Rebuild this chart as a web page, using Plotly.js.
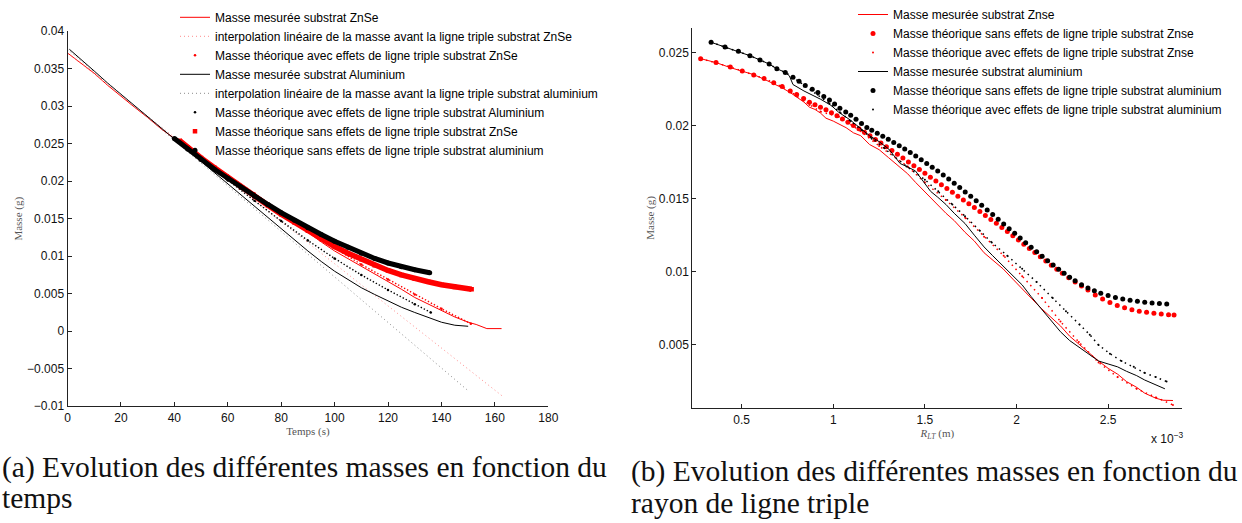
<!DOCTYPE html>
<html><head><meta charset="utf-8">
<script src="https://cdn.plot.ly/plotly-3.0.1.min.js"></script>
<style>html,body{margin:0;padding:0;background:#fff}</style>
</head><body><div id="chart" style="width:1242px;height:523px"></div>
<script>
// ---------- (a) mass vs time ----------
const tMesZn = [0,5,10,15,20,25,30,35,40,45,50,55,60,65,70,75,80,85,90,95,100,105,110,115,120,125,130,135,140,145,150,153,157,162.5];
const mMesZn = [0.0371,0.0358,0.0344,0.0328,0.0313,0.0299,0.0285,0.0270,0.0257,0.0244,0.0232,0.0219,0.0207,0.0194,0.0182,0.0170,0.0157,0.0144,0.0131,0.0119,0.0107,0.0097,0.0086,0.0076,0.0066,0.0056,0.0045,0.0036,0.0027,0.0019,0.0012,0.0009,0.00035,0.00035];
const tMesAl = [0.7,5,10,15,20,25,30,35,40,45,50,55,60,65,70,75,80,85,90,95,100,105,110,115,120,125,130,135,140,145,150];
const mMesAl = [0.0376,0.0362,0.0347,0.0331,0.0316,0.0301,0.0286,0.0271,0.0257,0.0242,0.0227,0.0212,0.0197,0.0182,0.0167,0.0152,0.0137,0.0122,0.0107,0.0093,0.0080,0.0069,0.0058,0.0049,0.0040,0.0032,0.0025,0.0018,0.0012,0.0008,0.00066];
const tInterpZn = [0,162.8];
const mInterpZn = [0.0371,-0.00865];
const tInterpAl = [0,150.2];
const mInterpAl = [0.0376,-0.0080];
const tAvecZn = [42,50,60,70,80,90,100,110,120,130,140,151];
const mAvecZn = [0.0254,0.0233,0.0208,0.0184,0.0160,0.0135,0.0111,0.0089,0.0069,0.0049,0.0030,0.0010];
const tAvecAl = [40,50,60,70,80,90,100,110,120,130,136];
const mAvecAl = [0.0257,0.0229,0.0201,0.0174,0.0147,0.0121,0.0097,0.0075,0.0055,0.0036,0.0025];
const tSansZn = [42,45,50,55,60,65,70,75,80,85,90,95,100,105,110,115,120,125,130,135,140,145,151.3];
const mSansZn = [0.0254,0.0245,0.0231,0.0218,0.0205,0.0192,0.0180,0.0168,0.0156,0.0145,0.0134,0.0123,0.0113,0.0104,0.0096,0.0088,0.0081,0.0075,0.0070,0.0066,0.0062,0.0059,0.0056];
const tSansAl = [40,45,50,55,60,65,70,75,80,85,90,95,100,105,110,115,120,125,130,135.6];
const mSansAl = [0.0257,0.0243,0.0229,0.0216,0.0204,0.0192,0.0180,0.0169,0.0158,0.0148,0.0138,0.0129,0.0120,0.0112,0.0104,0.0097,0.0091,0.0086,0.0082,0.0078];

const xTicksA = [0,20,40,60,80,100,120,140,160,180];
const yTicksA = [-0.01,-0.005,0,0.005,0.01,0.015,0.02,0.025,0.03,0.035,0.04];
const yTickTextA = ['\u22120.01','\u22120.005','0','0.005','0.01','0.015','0.02','0.025','0.03','0.035','0.04'];

// ---------- (b) mass vs triple line radius (x 1e-3 m) ----------
const rMesZn = [0.276,0.36,0.44,0.50,0.565,0.62,0.675,0.72,0.765,0.80,0.84,0.87,0.90,0.93,0.96,1.0,1.031,1.07,1.11,1.15,1.198,1.25,1.302,1.35,1.406,1.45,1.51,1.56,1.615,1.66,1.719,1.77,1.823,1.87,1.927,1.98,2.031,2.08,2.135,2.19,2.24,2.29,2.344,2.40,2.448,2.50,2.552,2.60,2.656,2.70,2.76,2.80,2.854];
const mRMesZn = [0.02457,0.0243,0.02395,0.02375,0.02348,0.02318,0.02285,0.02258,0.02225,0.02195,0.0216,0.02125,0.0211,0.02085,0.0205,0.0203,0.0201,0.01985,0.0195,0.0193,0.0187,0.01835,0.0178,0.0173,0.0167,0.0161,0.0153,0.0147,0.0140,0.0135,0.0127,0.0121,0.0113,0.0108,0.0102,0.0095,0.0088,0.0082,0.0075,0.0069,0.0063,0.0056,0.0050,0.0044,0.0039,0.0034,0.0030,0.0025,0.0021,0.0017,0.00136,0.00122,0.0012];
const rMesAl = [0.333,0.409,0.482,0.545,0.60,0.65,0.692,0.738,0.76,0.78,0.84,0.93,0.99,1.03,1.09,1.15,1.198,1.25,1.302,1.34,1.365,1.40,1.448,1.49,1.531,1.57,1.615,1.66,1.719,1.77,1.823,1.87,1.927,1.98,2.031,2.08,2.135,2.19,2.24,2.29,2.344,2.40,2.448,2.50,2.552,2.60,2.656,2.70,2.74,2.81];
const mRMesAl = [0.02569,0.02537,0.02507,0.02477,0.02448,0.0242,0.02388,0.02363,0.0234,0.0228,0.02236,0.0218,0.02136,0.0209,0.0204,0.0198,0.0193,0.0189,0.0184,0.0178,0.0174,0.0172,0.0169,0.0162,0.0155,0.0151,0.0146,0.0140,0.0133,0.0125,0.0117,0.0111,0.0104,0.0097,0.0091,0.0083,0.0075,0.0067,0.0059,0.0053,0.0048,0.0043,0.0039,0.0037,0.0035,0.0032,0.0029,0.0026,0.0024,0.0020];
const rSansZn = [0.276,0.36,0.438,0.503,0.566,0.622,0.675,0.721,0.765,0.80,0.838,0.87,0.90,0.93,0.96,0.99,1.02,1.05,1.08,1.11,1.14,1.17,1.20,1.23,1.26,1.29,1.32,1.35,1.38,1.41,1.44,1.47,1.50,1.53,1.56,1.59,1.62,1.65,1.68,1.71,1.74,1.77,1.80,1.83,1.86,1.89,1.92,1.95,1.98,2.01,2.04,2.07,2.10,2.13,2.16,2.19,2.22,2.25,2.285,2.32,2.355,2.39,2.43,2.47,2.51,2.55,2.59,2.63,2.67,2.71,2.75,2.79,2.83,2.86];
const mRSansZn = [0.02457,0.0243,0.0240,0.02373,0.02346,0.02321,0.02293,0.02266,0.02236,0.02212,0.02185,0.02159,0.02142,0.02125,0.02107,0.02087,0.02066,0.02044,0.02022,0.02000,0.01977,0.01954,0.01930,0.01905,0.01880,0.01855,0.01829,0.01803,0.01777,0.01751,0.01725,0.01699,0.01673,0.01647,0.01621,0.01595,0.01569,0.01543,0.01517,0.01491,0.01465,0.01439,0.01412,0.01385,0.01358,0.01331,0.01303,0.01275,0.01247,0.01218,0.01189,0.01160,0.01131,0.01102,0.01073,0.01045,0.01017,0.00990,0.00960,0.00931,0.00903,0.00876,0.00842,0.00814,0.00790,0.00770,0.00754,0.00741,0.00731,0.00723,0.00716,0.00711,0.00707,0.00705];
const rSansAl = [0.333,0.409,0.482,0.545,0.60,0.65,0.692,0.738,0.78,0.813,0.847,0.885,0.916,0.948,0.979,1.007,1.036,1.068,1.095,1.124,1.154,1.183,1.21,1.24,1.27,1.30,1.33,1.36,1.39,1.42,1.45,1.48,1.51,1.54,1.57,1.60,1.63,1.66,1.69,1.72,1.75,1.78,1.81,1.84,1.87,1.90,1.93,1.96,1.99,2.02,2.05,2.08,2.11,2.14,2.17,2.20,2.23,2.26,2.29,2.32,2.355,2.39,2.425,2.46,2.50,2.54,2.58,2.62,2.66,2.70,2.74,2.78,2.82];
const mRSansAl = [0.02569,0.02537,0.02507,0.02477,0.02448,0.0242,0.02388,0.02363,0.0233,0.02303,0.02274,0.02248,0.02226,0.02199,0.02174,0.02147,0.02118,0.02092,0.0207,0.02042,0.02013,0.01987,0.01967,0.01947,0.01927,0.01906,0.01884,0.01862,0.01839,0.01815,0.01791,0.01766,0.01741,0.01715,0.01689,0.01662,0.01634,0.01605,0.01576,0.01546,0.01516,0.01485,0.01454,0.01423,0.01391,0.01359,0.01327,0.01295,0.01263,0.01231,0.01199,0.01168,0.01137,0.01106,0.01076,0.01047,0.01018,0.00990,0.00963,0.00938,0.00912,0.00890,0.00870,0.00853,0.00838,0.00825,0.00814,0.00805,0.00798,0.00792,0.00787,0.00783,0.00779];
const rAvecZn = [0.276,0.36,0.438,0.503,0.566,0.622,0.675,0.721,0.765,0.80,0.838,0.87,0.93,1.031,1.15,1.25,1.406,1.50,1.615,1.72,1.823,1.93,2.031,2.14,2.24,2.34,2.448,2.552,2.656,2.76,2.854];
const mRAvecZn = [0.02457,0.0243,0.0240,0.02373,0.02346,0.02321,0.02293,0.02266,0.02236,0.0220,0.0217,0.0214,0.02095,0.0206,0.0196,0.0186,0.0172,0.0161,0.0149,0.0137,0.0124,0.0111,0.0097,0.0082,0.0066,0.0052,0.0038,0.0028,0.0020,0.0014,0.0009];
const rAvecAl = [0.333,0.409,0.482,0.545,0.60,0.65,0.692,0.738,0.78,0.847,0.916,0.979,1.036,1.095,1.154,1.21,1.28,1.40,1.50,1.573,1.65,1.719,1.80,1.865,1.95,2.031,2.11,2.198,2.27,2.344,2.40,2.448,2.51,2.573,2.64,2.698,2.76,2.819];
const mRAvecAl = [0.02569,0.02537,0.02507,0.02477,0.02448,0.0242,0.02388,0.02363,0.0233,0.0227,0.0221,0.0215,0.0209,0.0203,0.0197,0.0191,0.01844,0.0172,0.0163,0.0155,0.0146,0.0138,0.0128,0.0120,0.0111,0.0102,0.0093,0.0082,0.0073,0.0064,0.0057,0.0050,0.0044,0.0039,0.0035,0.0031,0.0028,0.0025];

const xTicksB = [0.5,1,1.5,2,2.5];
const xTickTextB = ['0.5','1','1.5','2','2.5'];
const yTicksB = [0.005,0.01,0.015,0.02,0.025];
const yTickTextB = ['0.005','0.01','0.015','0.02','0.025'];

// ---------- styles ----------
const RED = '#ff0000', BLACK = '#000000';
const W = 1242, H = 523;
const px = v => v / W, py = v => 1 - v / H;

const A = {xaxis:'x', yaxis:'y', legend:'legend'};
const B = {xaxis:'x2', yaxis:'y2', legend:'legend2'};

const traces = [
  // (a)
  {...A, x:tMesZn, y:mMesZn, mode:'lines', line:{color:RED,width:1}, name:'Masse mesurée substrat ZnSe'},
  {...A, x:tInterpZn, y:mInterpZn, mode:'lines', line:{color:'#ff8a8a',width:1,dash:'1px,3px'}, name:'interpolation linéaire de la masse avant la ligne triple substrat ZnSe'},
  {...A, x:tAvecZn, y:mAvecZn, mode:'lines', line:{color:RED,width:1.4,dash:'1.4px,2px'}, showlegend:false, hoverinfo:'skip'},
  {...A, x:tAvecZn, y:mAvecZn, mode:'markers', marker:{color:RED,size:2.5}, name:'Masse théorique avec effets de ligne triple substrat ZnSe'},
  {...A, x:tMesAl, y:mMesAl, mode:'lines', line:{color:BLACK,width:1}, name:'Masse mesurée substrat Aluminium'},
  {...A, x:tInterpAl, y:mInterpAl, mode:'lines', line:{color:'#8a8a8a',width:1,dash:'1px,3px'}, name:'interpolation linéaire de la masse avant la ligne triple substrat aluminium'},
  {...A, x:tAvecAl, y:mAvecAl, mode:'lines', line:{color:BLACK,width:1.4,dash:'1.4px,2px'}, showlegend:false, hoverinfo:'skip'},
  {...A, x:tAvecAl, y:mAvecAl, mode:'markers', marker:{color:BLACK,size:2.5}, name:'Masse théorique avec effets de ligne triple substrat Aluminium'},
  {...A, x:tSansZn, y:mSansZn, mode:'lines', line:{color:RED,width:5.5}, showlegend:false, hoverinfo:'skip'},
  {...A, x:tSansZn, y:mSansZn, mode:'markers', marker:{color:RED,size:4.5,symbol:'square'}, name:'Masse théorique sans effets de ligne triple substrat ZnSe'},
  {...A, x:tSansAl, y:mSansAl, mode:'lines', line:{color:BLACK,width:5}, showlegend:false, hoverinfo:'skip'},
  {...A, x:tSansAl, y:mSansAl, mode:'markers', marker:{color:BLACK,size:5}, name:'Masse théorique sans effets de ligne triple substrat aluminium'},
  // (b)
  {...B, x:rMesZn, y:mRMesZn, mode:'lines', line:{color:RED,width:1}, name:'Masse mesurée substrat Znse'},
  {...B, x:rSansZn, y:mRSansZn, mode:'markers', marker:{color:RED,size:5}, name:'Masse théorique sans effets de ligne triple substrat Znse'},
  {...B, x:rAvecZn, y:mRAvecZn, mode:'lines', line:{color:RED,width:1.5,dash:'1.5px,4px'}, showlegend:false, hoverinfo:'skip'},
  {...B, x:rAvecZn, y:mRAvecZn, mode:'markers', marker:{color:RED,size:2}, name:'Masse théorique avec effets de ligne triple substrat Znse'},
  {...B, x:rMesAl, y:mRMesAl, mode:'lines', line:{color:BLACK,width:1}, name:'Masse mesurée substrat aluminium'},
  {...B, x:rSansAl, y:mRSansAl, mode:'markers', marker:{color:BLACK,size:5}, name:'Masse théorique sans effets de ligne triple substrat aluminium'},
  {...B, x:rAvecAl, y:mRAvecAl, mode:'lines', line:{color:BLACK,width:1.5,dash:'1.5px,4px'}, showlegend:false, hoverinfo:'skip'},
  {...B, x:rAvecAl, y:mRAvecAl, mode:'markers', marker:{color:BLACK,size:2}, name:'Masse théorique avec effets de ligne triple substrat aluminium'}
];

const tickFont = {family:'Liberation Sans, Arial, sans-serif', size:12, color:'#111'};
const titleFont = {family:'Liberation Serif, serif', size:11, color:'#555'};
const ax = {showline:true, linecolor:'#222', linewidth:1, ticks:'inside', ticklen:4, tickcolor:'#222',
            showgrid:false, zeroline:false, tickfont:tickFont, fixedrange:true};
const legFont = {family:'Liberation Sans, Arial, sans-serif', size:12, color:'#000'};
const capFont = {family:'Liberation Serif, serif', size:29.5, color:'#111'};

const layout = {
  width:W, height:H, margin:{l:0,r:0,t:0,b:0},
  paper_bgcolor:'#fff', plot_bgcolor:'rgba(0,0,0,0)',
  showlegend:true,
  xaxis:{...ax, domain:[px(67.5),px(548.3)], range:[0,180], tickvals:xTicksA,
         title:{text:'Temps (s)', font:titleFont, standoff:3}, anchor:'y'},
  yaxis:{...ax, domain:[py(403.7),py(20.7)], range:[-0.01,0.04], tickvals:yTicksA, ticktext:yTickTextA,
         title:{text:'Masse (g)', font:titleFont, standoff:2}, anchor:'x'},
  xaxis2:{...ax, domain:[px(692.3),px(1182.3)], range:[0.2304,2.905], tickvals:xTicksB, ticktext:xTickTextB,
         title:{text:'<i>R<sub>LT</sub></i> (m)', font:titleFont, standoff:3}, anchor:'y2'},
  yaxis2:{...ax, domain:[py(405.7),py(17)], range:[0.000677,0.02669], tickvals:yTicksB, ticktext:yTickTextB,
         title:{text:'Masse (g)', font:titleFont, standoff:2}, anchor:'x2'},
  legend:{x:px(175), xanchor:'left', y:1.016, yanchor:'top', bgcolor:'rgba(0,0,0,0)', font:legFont, tracegroupgap:0, itemwidth:30},
  legend2:{x:px(853), xanchor:'left', y:1.022, yanchor:'top', bgcolor:'rgba(0,0,0,0)', font:legFont, tracegroupgap:0, itemwidth:30},
  annotations:[
    {xref:'paper', yref:'paper', x:px(1149), y:py(436), xanchor:'left', yanchor:'middle', showarrow:false,
     text:'x 10<sup>\u22123</sup>', font:{family:'Liberation Sans, Arial, sans-serif', size:12, color:'#111'}},
    {xref:'paper', yref:'paper', x:px(0), y:py(466), xanchor:'left', yanchor:'middle', showarrow:false,
     text:'(a) Evolution des différentes masses en fonction du', font:capFont},
    {xref:'paper', yref:'paper', x:px(0), y:py(497), xanchor:'left', yanchor:'middle', showarrow:false,
     text:'temps', font:capFont},
    {xref:'paper', yref:'paper', x:px(629), y:py(470), xanchor:'left', yanchor:'middle', showarrow:false,
     text:'(b) Evolution des différentes masses en fonction du', font:capFont},
    {xref:'paper', yref:'paper', x:px(629), y:py(503), xanchor:'left', yanchor:'middle', showarrow:false,
     text:'rayon de ligne triple', font:capFont}
  ]
};

Plotly.newPlot('chart', traces, layout, {staticPlot:true, displayModeBar:false});
</script></body></html>
